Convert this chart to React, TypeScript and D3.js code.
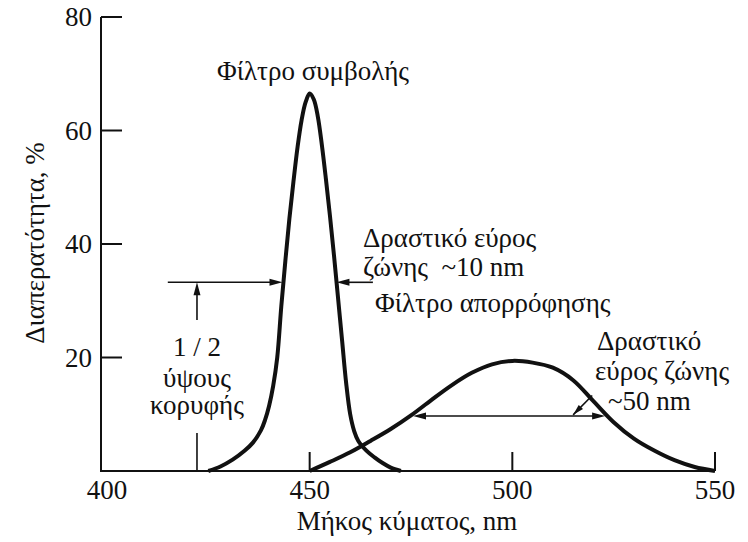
import React from 'react';
import * as d3 from 'd3';

// narrow band (interference filter), wavelength nm / transmittance %
const NARROW_NM = [425, 428, 431, 434, 436, 438, 439, 440, 441, 442, 443, 444, 445, 446, 447, 448, 449, 450, 451, 452, 453, 454, 455, 456, 457, 458, 459, 460, 461, 462, 464, 466, 468, 470, 472.5];
const NARROW_T = [0, 0.8, 2, 3.6, 5, 7.2, 9, 11.5, 15, 20, 29, 37, 44.5, 51, 57, 61.8, 65, 66.5, 65.5, 62.5, 57.5, 51.5, 45, 38, 30.5, 23, 15.5, 10, 7, 5.3, 3.6, 2.4, 1.4, 0.6, 0];

// broad band (absorption filter)
const BROAD_NM = [450, 455, 460, 465, 470, 475, 480, 485, 490, 495, 500, 505, 510, 515, 520, 525, 530, 535, 540, 545, 550];
const BROAD_T = [0, 1.6, 3.3, 5.3, 7.4, 9.8, 12.5, 15.1, 17.3, 18.8, 19.4, 19.1, 18.2, 16.0, 12.3, 8.6, 5.7, 3.6, 1.9, 0.7, 0];

const X_TICKS = [400, 450, 500, 550];
const Y_TICKS = [20, 40, 60, 80];

const FONT = "'Liberation Serif', 'Times New Roman', Times, 'Noto Serif', 'DejaVu Serif', serif";

function arrowHead(tx: number, ty: number, dx: number, dy: number, len = 13, half = 3.5) {
  const n = Math.hypot(dx, dy);
  const ux = dx / n, uy = dy / n;
  const bx = tx - ux * len, by = ty - uy * len;
  return `M${tx},${ty}L${bx - uy * half},${by + ux * half}L${bx + uy * half},${by - ux * half}Z`;
}

export default function App() {
  const x = d3.scaleLinear().domain([400, 550]).range([107, 715]);
  const y = d3.scaleLinear().domain([0, 80]).range([471, 17]);

  const line = d3.line<number>()
    .x((_, i) => x(NARROW_NM[i]))
    .y((d) => y(d))
    .curve(d3.curveCatmullRom.alpha(0.5));
  const line2 = d3.line<number>()
    .x((_, i) => x(BROAD_NM[i]))
    .y((d) => y(d))
    .curve(d3.curveCatmullRom.alpha(0.5));

  const axisX = 101;
  const half1 = d3.max(NARROW_T)! / 2;
  const half2 = d3.max(BROAD_T)! / 2;

  // annotation geometry (data units)
  const hy = y(half1);
  const leftStart = x(415), leftTip = x(443.3);
  const rightStart = x(465.6), rightTip = x(456.6);
  const vx = x(422.2);
  const by2 = y(half2);
  const bL = x(475.5), bR = x(522.9);

  const txt = { fontFamily: FONT, fill: '#111' } as const;

  return (
    <div style={{ position: 'absolute', left: 0, top: 0 }}>
      <svg width={748} height={542} style={{ display: 'block', background: '#fff' }}>
        {/* axes */}
        <line x1={axisX} y1={y(80)} x2={axisX} y2={y(0)} stroke="#111" strokeWidth={2} />
        <line x1={axisX - 1} y1={y(0)} x2={x(550)} y2={y(0)} stroke="#111" strokeWidth={2} />
        {Y_TICKS.map((t) => (
          <g key={t}>
            <line x1={axisX} x2={axisX + 21} y1={y(t)} y2={y(t)} stroke="#111" strokeWidth={2} />
            <text x={92} y={y(t) + 9} textAnchor="end" fontSize={27} {...txt}>{t}</text>
          </g>
        ))}
        {X_TICKS.map((t) => (
          <g key={t}>
            {t > 400 && <line x1={x(t)} x2={x(t)} y1={y(0)} y2={y(0) - 19} stroke="#111" strokeWidth={2} />}
            <text x={x(t)} y={499} textAnchor="middle" fontSize={27} {...txt}>{t}</text>
          </g>
        ))}
        <text x={407} y={530} textAnchor="middle" fontSize={27} {...txt}>Μήκος κύματος, nm</text>
        <text transform="translate(44,243) rotate(-90)" textAnchor="middle" fontSize={27} {...txt}>Διαπερατότητα, %</text>

        {/* curves */}
        <path d={line(NARROW_T)!} fill="none" stroke="#111" strokeWidth={4} strokeLinejoin="round" />
        <path d={line2(BROAD_T)!} fill="none" stroke="#111" strokeWidth={4} strokeLinejoin="round" />

        {/* half-height markers, narrow band */}
        <line x1={leftStart} x2={leftTip - 10} y1={hy} y2={hy} stroke="#111" strokeWidth={1.6} />
        <path d={arrowHead(leftTip, hy, 1, 0)} fill="#111" />
        <line x1={rightStart} x2={rightTip + 10} y1={hy} y2={hy} stroke="#111" strokeWidth={1.6} />
        <path d={arrowHead(rightTip, hy, -1, 0)} fill="#111" />
        <line x1={vx} x2={vx} y1={y(26.6)} y2={hy + 10} stroke="#111" strokeWidth={1.6} />
        <path d={arrowHead(vx, hy, 0, -1)} fill="#111" />
        <line x1={vx} x2={vx} y1={y(6.7)} y2={y(0)} stroke="#111" strokeWidth={1.6} />

        {/* broad band width */}
        <line x1={bL + 10} x2={bR - 10} y1={by2} y2={by2} stroke="#111" strokeWidth={1.6} />
        <path d={arrowHead(bL, by2, -1, 0)} fill="#111" />
        <path d={arrowHead(bR, by2, 1, 0)} fill="#111" />
        <line x1={x(519.7)} y1={y(13.3)} x2={x(515)} y2={y(9.9)} stroke="#111" strokeWidth={1.6} />
        <path d={arrowHead(x(515), y(9.9), x(515) - x(519.7), y(9.9) - y(13.3), 11, 3)} fill="#111" />

        {/* labels */}
        <text x={217} y={80} fontSize={27} {...txt}>Φίλτρο συμβολής</text>
        <text x={363} y={247} fontSize={27} {...txt}>Δραστικό εύρος</text>
        <text x={363} y={276} fontSize={27} {...txt} xmlSpace="preserve">ζώνης  ~10 nm</text>
        <text x={375} y={312} fontSize={27} {...txt}>Φίλτρο απορρόφησης</text>
        <text x={597} y={350} fontSize={27} {...txt}>Δραστικό</text>
        <text x={595} y={380} fontSize={27} {...txt}>εύρος ζώνης</text>
        <text x={608} y={410} fontSize={27} {...txt}>~50 nm</text>
        <text x={vx} y={356} textAnchor="middle" fontSize={27} {...txt}>1 / 2</text>
        <text x={vx} y={387} textAnchor="middle" fontSize={27} {...txt}>ύψους</text>
        <text x={vx} y={414} textAnchor="middle" fontSize={27} {...txt}>κορυφής</text>
      </svg>
    </div>
  );
}
